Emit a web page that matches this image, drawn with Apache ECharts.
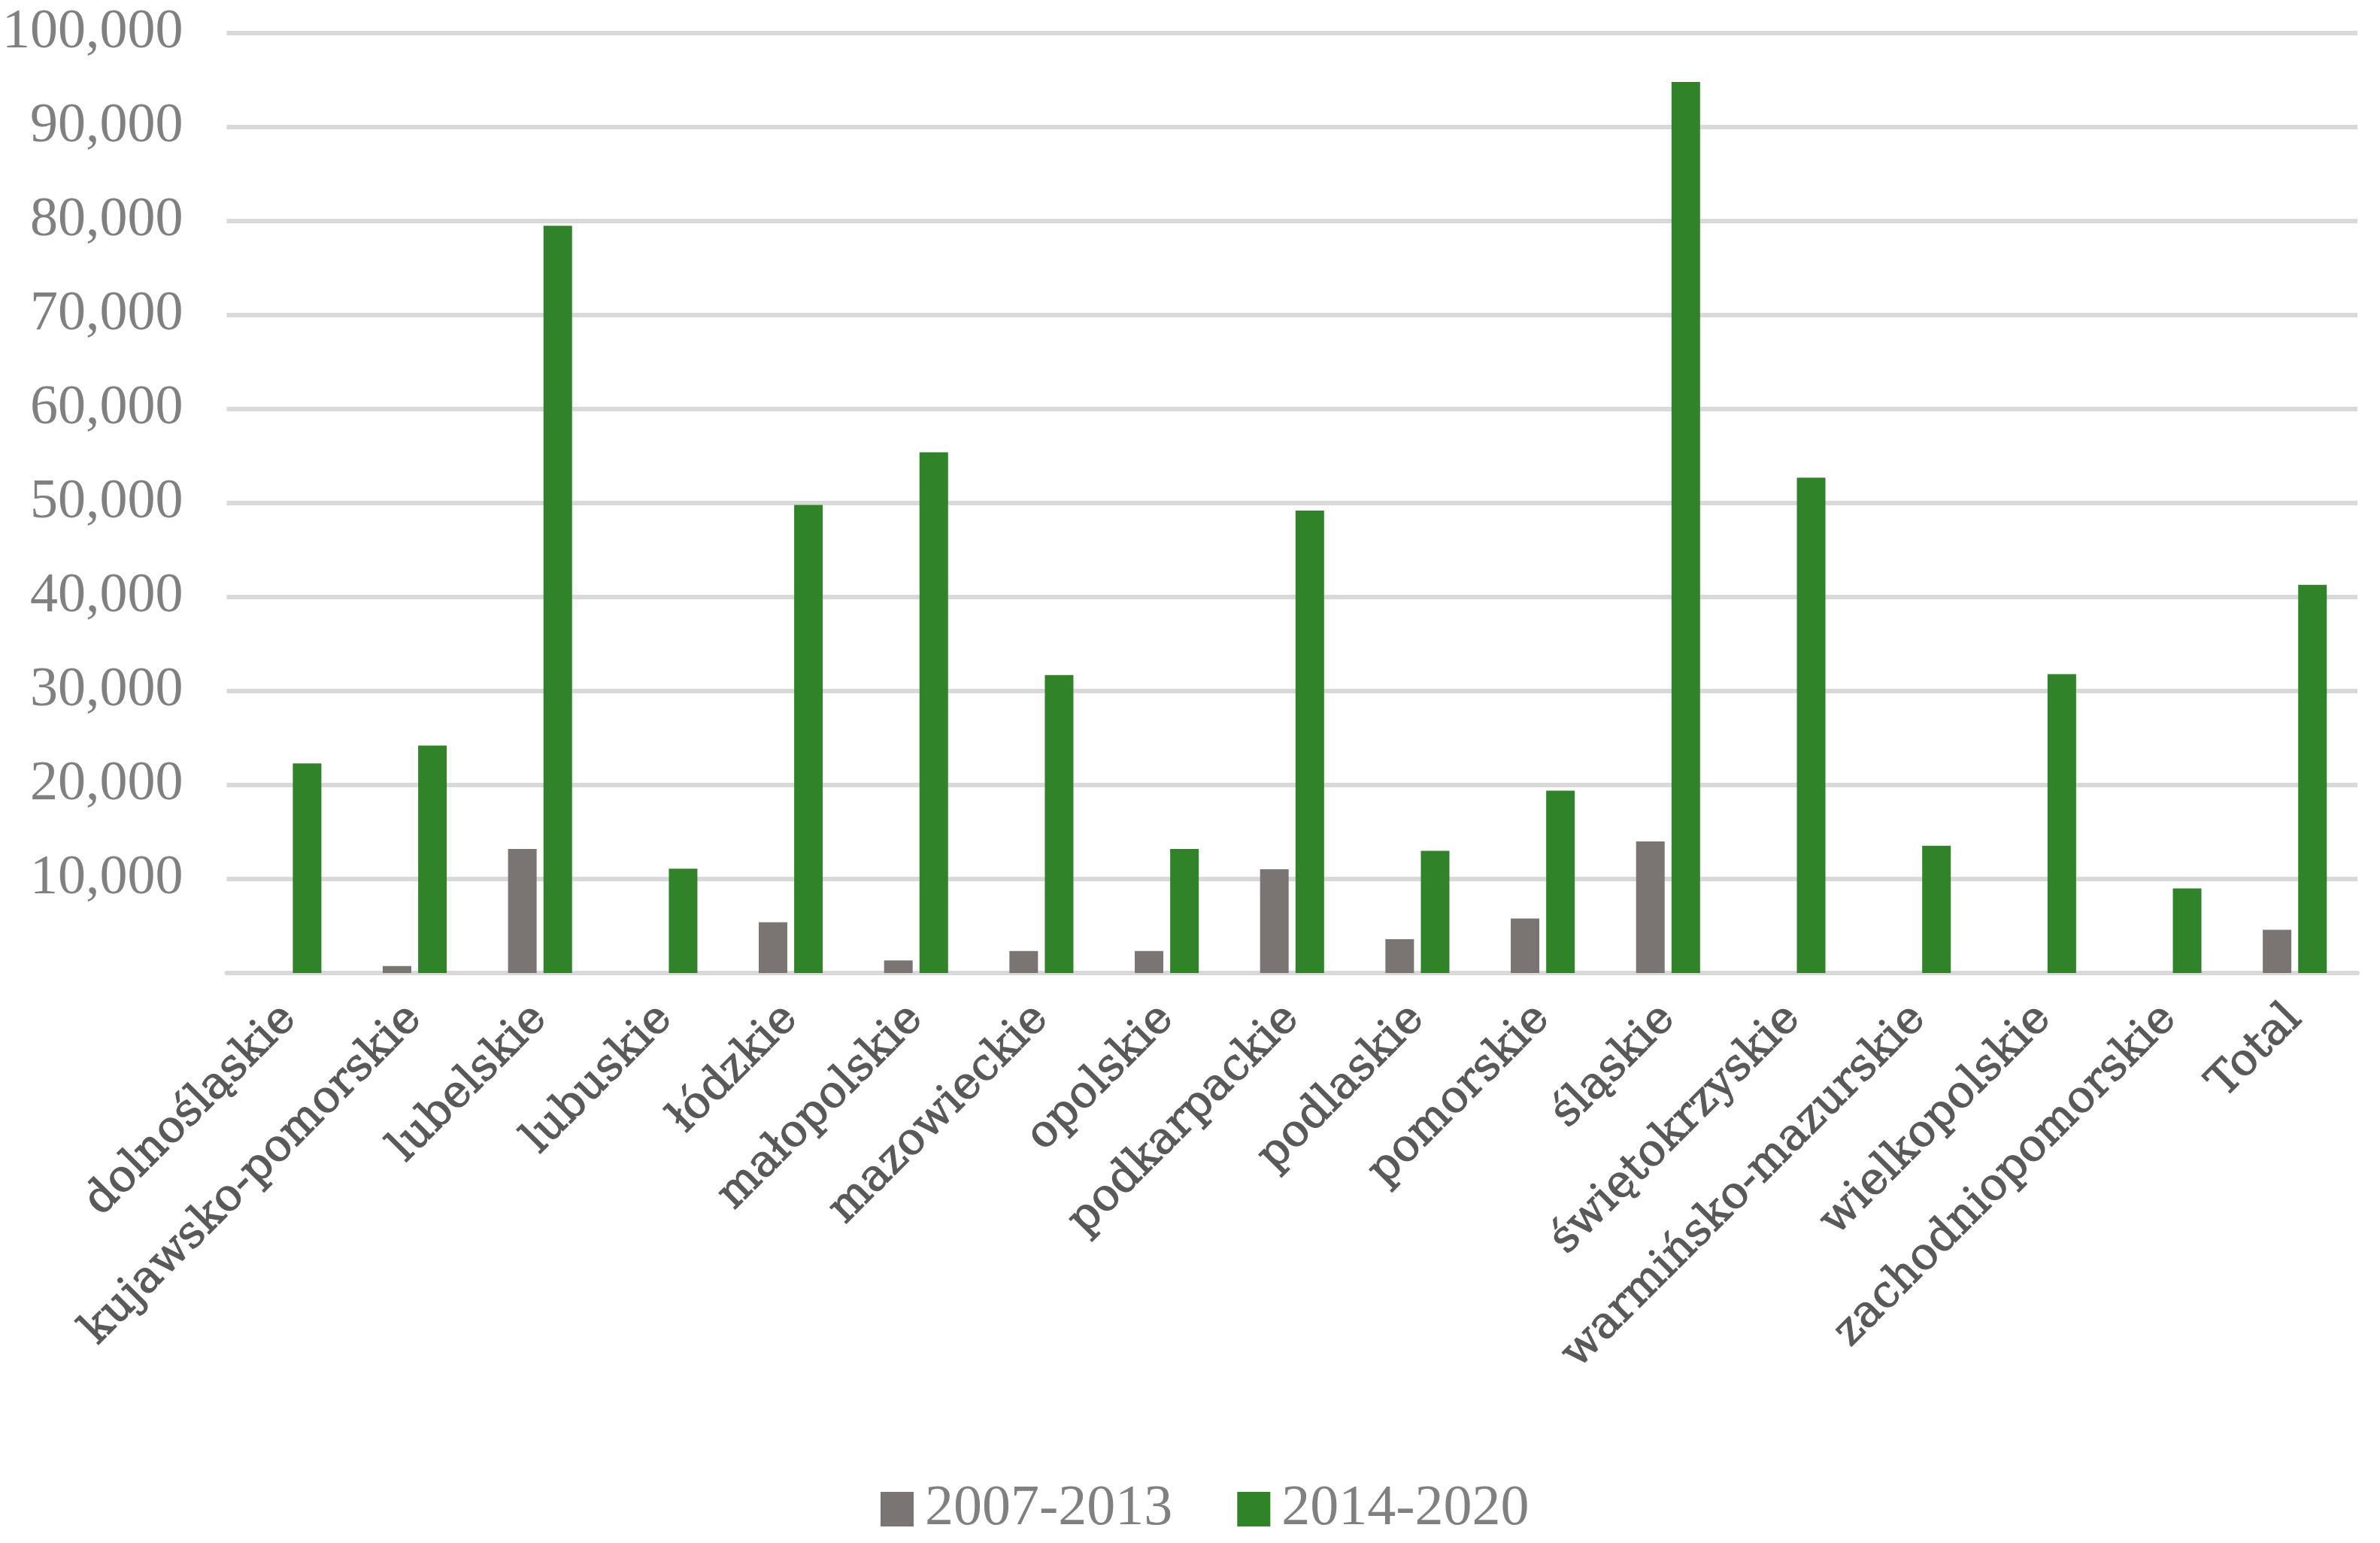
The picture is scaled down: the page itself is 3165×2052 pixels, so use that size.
<!DOCTYPE html>
<html><head><meta charset="utf-8">
<script src="https://cdn.jsdelivr.net/npm/echarts@6/dist/echarts.min.js"></script>
<style>html,body{margin:0;padding:0;background:#fff}#c{width:3165px;height:2052px}</style>
</head><body><div id="c"></div>
<script>
const categories = ['dolnośląskie','kujawsko-pomorskie','lubelskie','lubuskie','łódzkie','małopolskie','mazowieckie','opolskie','podkarpackie','podlaskie','pomorskie','śląskie','świętokrzyskie','warmińsko-mazurskie','wielkopolskie','zachodniopomorskie','Total'];
const seriesNames = ['2007-2013','2014-2020'];
const values2007 = [0, 750, 13200, 0, 5400, 1350, 2350, 2350, 11050, 3600, 5800, 14000, 0, 0, 0, 0, 4600];
const values2014 = [22300, 24200, 79500, 11100, 49800, 55400, 31700, 13200, 49200, 13000, 19400, 94800, 52700, 13550, 31800, 9000, 41300];
const yTicks = [0, 10000, 20000, 30000, 40000, 50000, 60000, 70000, 80000, 90000, 100000];

const chart = echarts.init(document.getElementById('c'), null, {renderer:'canvas'});
chart.setOption({
  backgroundColor:'#ffffff',
  animation:false,
  grid:{left:294, right:30, top:44, bottom:758, containLabel:false},
  legend:{
    bottom:2, left:1166, icon:'rect', itemWidth:44, itemHeight:46, itemGap:86,
    textStyle:{fontFamily:'Liberation Serif', fontSize:76, color:'#808080', padding:[0,0,0,10]},
    data:seriesNames
  },
  xAxis:{
    type:'category', data:categories,
    axisLine:{show:true, lineStyle:{color:'#d9d9d9', width:6}},
    axisTick:{show:false},
    axisLabel:{rotate:45, interval:0, margin:52, fontFamily:'DejaVu Serif', fontSize:59, color:'#595959',
      textBorderColor:'#595959', textBorderWidth:1.2}
  },
  yAxis:{
    type:'value', min:yTicks[0], max:yTicks[yTicks.length-1], interval:10000,
    axisLine:{show:false}, axisTick:{show:false},
    splitLine:{lineStyle:{color:'#d9d9d9', width:6}},
    axisLabel:{margin:58, fontFamily:'Liberation Serif', fontSize:74, color:'#808080',
      formatter:v=>v===0?'':v.toLocaleString('en-US')}
  },
  series:[
    {name:seriesNames[0], type:'bar', data:values2007, barWidth:38, barGap:'24%', itemStyle:{color:'#7a7473'}},
    {name:seriesNames[1], type:'bar', data:values2014, barWidth:38, itemStyle:{color:'#31832a'}}
  ]
});
</script></body></html>
